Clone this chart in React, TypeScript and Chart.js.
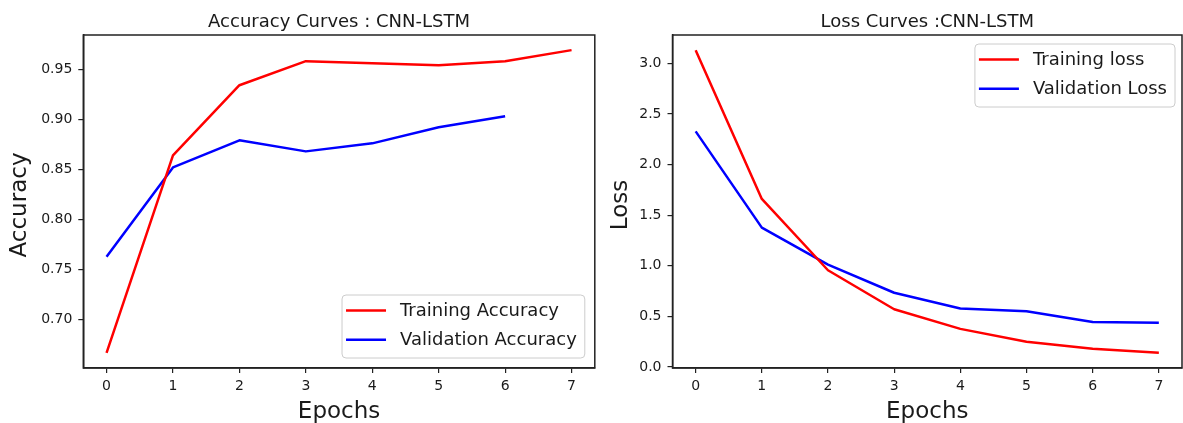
import React, { useEffect, useRef } from "react";
import { Chart, registerables } from "chart.js";

Chart.register(...registerables);

const FONT = "'DejaVu Sans', 'Liberation Sans', sans-serif";
const TEXT = "#1a1a1a";
const SPINE = "#222222";

// ---- data ----
const epochs = [0, 1, 2, 3, 4, 5, 6, 7];
const trainAcc = [0.667, 0.864, 0.934, 0.958, 0.956, 0.954, 0.958, 0.969];
const valAcc = [0.763, 0.852, 0.879, 0.868, 0.876, 0.892, 0.903];
const trainLoss = [3.13, 1.66, 0.955, 0.57, 0.376, 0.248, 0.18, 0.139];
const valLoss = [2.327, 1.376, 1.01, 0.733, 0.578, 0.55, 0.445, 0.436];
const accTicks = [0.7, 0.75, 0.8, 0.85, 0.9, 0.95];
const lossTicks = [0, 0.5, 1.0, 1.5, 2.0, 2.5, 3.0];

const accLabels = ["Training Accuracy", "Validation Accuracy"];
const lossLabels = ["Training loss", "Validation Loss"];
const colors = ["#ff0000", "#0000ff"];

const H = 423;

type Spec = {
  width: number;
  left: number;
  title: string;
  ylabel: string;
  ylabelX: number;
  series: number[][];
  labels: string[];
  ticks: number[];
  decimals: number;
  plotLeft: number;
  plotRight: number;
  legend: "lowerRight" | "upperRight";
  legendGap: number;
};

function bounds(series: number[][]) {
  const all = series.flat();
  const mn = Math.min(...all);
  const mx = Math.max(...all);
  const m = (mx - mn) * 0.05;
  return { min: mn - m, max: mx + m };
}

function roundRect(ctx: CanvasRenderingContext2D, x: number, y: number, w: number, h: number, r: number) {
  ctx.beginPath();
  ctx.moveTo(x + r, y);
  ctx.lineTo(x + w - r, y);
  ctx.quadraticCurveTo(x + w, y, x + w, y + r);
  ctx.lineTo(x + w, y + h - r);
  ctx.quadraticCurveTo(x + w, y + h, x + w - r, y + h);
  ctx.lineTo(x + r, y + h);
  ctx.quadraticCurveTo(x, y + h, x, y + h - r);
  ctx.lineTo(x, y + r);
  ctx.quadraticCurveTo(x, y, x + r, y);
  ctx.closePath();
}

function decorPlugin(spec: Spec) {
  return {
    id: "decor",
    afterDraw(chart: any) {
      const ctx: CanvasRenderingContext2D = chart.ctx;
      const a = chart.chartArea;
      ctx.save();
      // frame
      ctx.strokeStyle = SPINE;
      ctx.lineWidth = 1.5;
      ctx.strokeRect(a.left, a.top, a.right - a.left, a.bottom - a.top);

      // title
      ctx.fillStyle = TEXT;
      ctx.font = `18px ${FONT}`;
      ctx.textAlign = "center";
      ctx.textBaseline = "alphabetic";
      ctx.fillText(spec.title, (a.left + a.right) / 2, 26.5);

      // x label
      ctx.font = `23px ${FONT}`;
      ctx.fillText("Epochs", (a.left + a.right) / 2, 418);

      // y label
      ctx.save();
      ctx.translate(spec.ylabelX, 205);
      ctx.rotate(-Math.PI / 2);
      ctx.fillText(spec.ylabel, 0, 0);
      ctx.restore();

      // legend
      ctx.font = `18px ${FONT}`;
      const tw = Math.max(...spec.labels.map((l) => ctx.measureText(l).width));
      const bw = 4 + 40 + 14 + tw + 8;
      const bh = 63;
      let bx: number, by: number;
      if (spec.legend === "lowerRight") {
        bx = a.right - spec.legendGap - bw;
        by = a.bottom - 10 - bh;
      } else {
        bx = a.right - spec.legendGap - bw;
        by = a.top + 9;
      }
      roundRect(ctx, bx, by, bw, bh, 4);
      ctx.fillStyle = "rgba(255,255,255,0.85)";
      ctx.fill();
      ctx.strokeStyle = "#cccccc";
      ctx.lineWidth = 1;
      ctx.stroke();
      const rows = [by + 15.5, by + 44.8];
      spec.labels.forEach((lab, i) => {
        ctx.strokeStyle = colors[i];
        ctx.lineWidth = 2.5;
        ctx.beginPath();
        ctx.moveTo(bx + 4, rows[i]);
        ctx.lineTo(bx + 44, rows[i]);
        ctx.stroke();
        ctx.fillStyle = TEXT;
        ctx.textAlign = "left";
        ctx.textBaseline = "middle";
        ctx.fillText(lab, bx + 58, rows[i] + 1);
      });
      ctx.restore();
    },
  };
}

function makeConfig(spec: Spec): any {
  const b = bounds(spec.series);
  const tickFont = { family: FONT, size: 14 };
  return {
    type: "line",
    data: {
      datasets: spec.series.map((vals, i) => ({
        label: spec.labels[i],
        data: vals.map((v, j) => ({ x: epochs[j], y: v })),
        borderColor: colors[i],
        backgroundColor: colors[i],
        borderWidth: 2.5,
        pointRadius: 0,
        tension: 0,
        fill: false,
        borderJoinStyle: "round",
      })),
    },
    options: {
      responsive: false,
      animation: false,
      devicePixelRatio: 1,
      layout: { padding: { top: 35, right: spec.width - spec.plotRight, bottom: 0, left: 0 } },
      plugins: {
        legend: { display: false },
        tooltip: { enabled: false },
        title: { display: false },
      },
      scales: {
        x: {
          type: "linear",
          min: -0.35,
          max: 7.35,
          afterBuildTicks: (s: any) => {
            s.ticks = epochs.map((v) => ({ value: v }));
          },
          afterFit: (s: any) => {
            s.height = H - 368;
          },
          ticks: {
            font: tickFont,
            color: TEXT,
            padding: 5,
            maxRotation: 0,
            autoSkip: false,
            callback: (v: number) => String(v),
          },
          grid: { drawOnChartArea: false, drawTicks: true, tickLength: 5, color: SPINE, lineWidth: 1.2 },
          border: { display: true, color: SPINE, width: 1.5 },
        },
        y: {
          type: "linear",
          min: b.min,
          max: b.max,
          afterBuildTicks: (s: any) => {
            s.ticks = spec.ticks.map((v) => ({ value: v }));
          },
          afterFit: (s: any) => {
            s.width = spec.plotLeft;
          },
          ticks: {
            font: tickFont,
            color: TEXT,
            padding: 6,
            autoSkip: false,
            callback: (v: number) => Number(v).toFixed(spec.decimals),
          },
          grid: { drawOnChartArea: false, drawTicks: true, tickLength: 5, color: SPINE, lineWidth: 1.2 },
          border: { display: true, color: SPINE, width: 1.5 },
        },
      },
    },
    plugins: [decorPlugin(spec)],
  };
}

function Panel({ spec }: { spec: Spec }) {
  const ref = useRef<HTMLCanvasElement | null>(null);
  useEffect(() => {
    if (!ref.current) return;
    const chart = new Chart(ref.current, makeConfig(spec));
    return () => chart.destroy();
  }, [spec]);
  return (
    <canvas
      ref={ref}
      width={spec.width}
      height={H}
      style={{ position: "absolute", left: spec.left, top: 0, width: spec.width, height: H }}
    />
  );
}

const leftSpec: Spec = {
  width: 600,
  left: 0,
  title: "Accuracy Curves : CNN-LSTM",
  ylabel: "Accuracy",
  ylabelX: 25.5,
  series: [trainAcc, valAcc],
  labels: accLabels,
  ticks: accTicks,
  decimals: 2,
  plotLeft: 83.3,
  plotRight: 594.8,
  legend: "lowerRight",
  legendGap: 10,
};

const rightSpec: Spec = {
  width: 583,
  left: 600,
  title: "Loss Curves :CNN-LSTM",
  ylabel: "Loss",
  ylabelX: 27,
  series: [trainLoss, valLoss],
  labels: lossLabels,
  ticks: lossTicks,
  decimals: 1,
  plotLeft: 72.5,
  plotRight: 582,
  legend: "upperRight",
  legendGap: 7,
};

export default function App() {
  return (
    <div
      style={{
        position: "absolute",
        left: 0,
        top: 0,
        width: 1183,
        height: H,
        overflow: "hidden",
        background: "#ffffff",
      }}
    >
      <Panel spec={leftSpec} />
      <Panel spec={rightSpec} />
    </div>
  );
}
